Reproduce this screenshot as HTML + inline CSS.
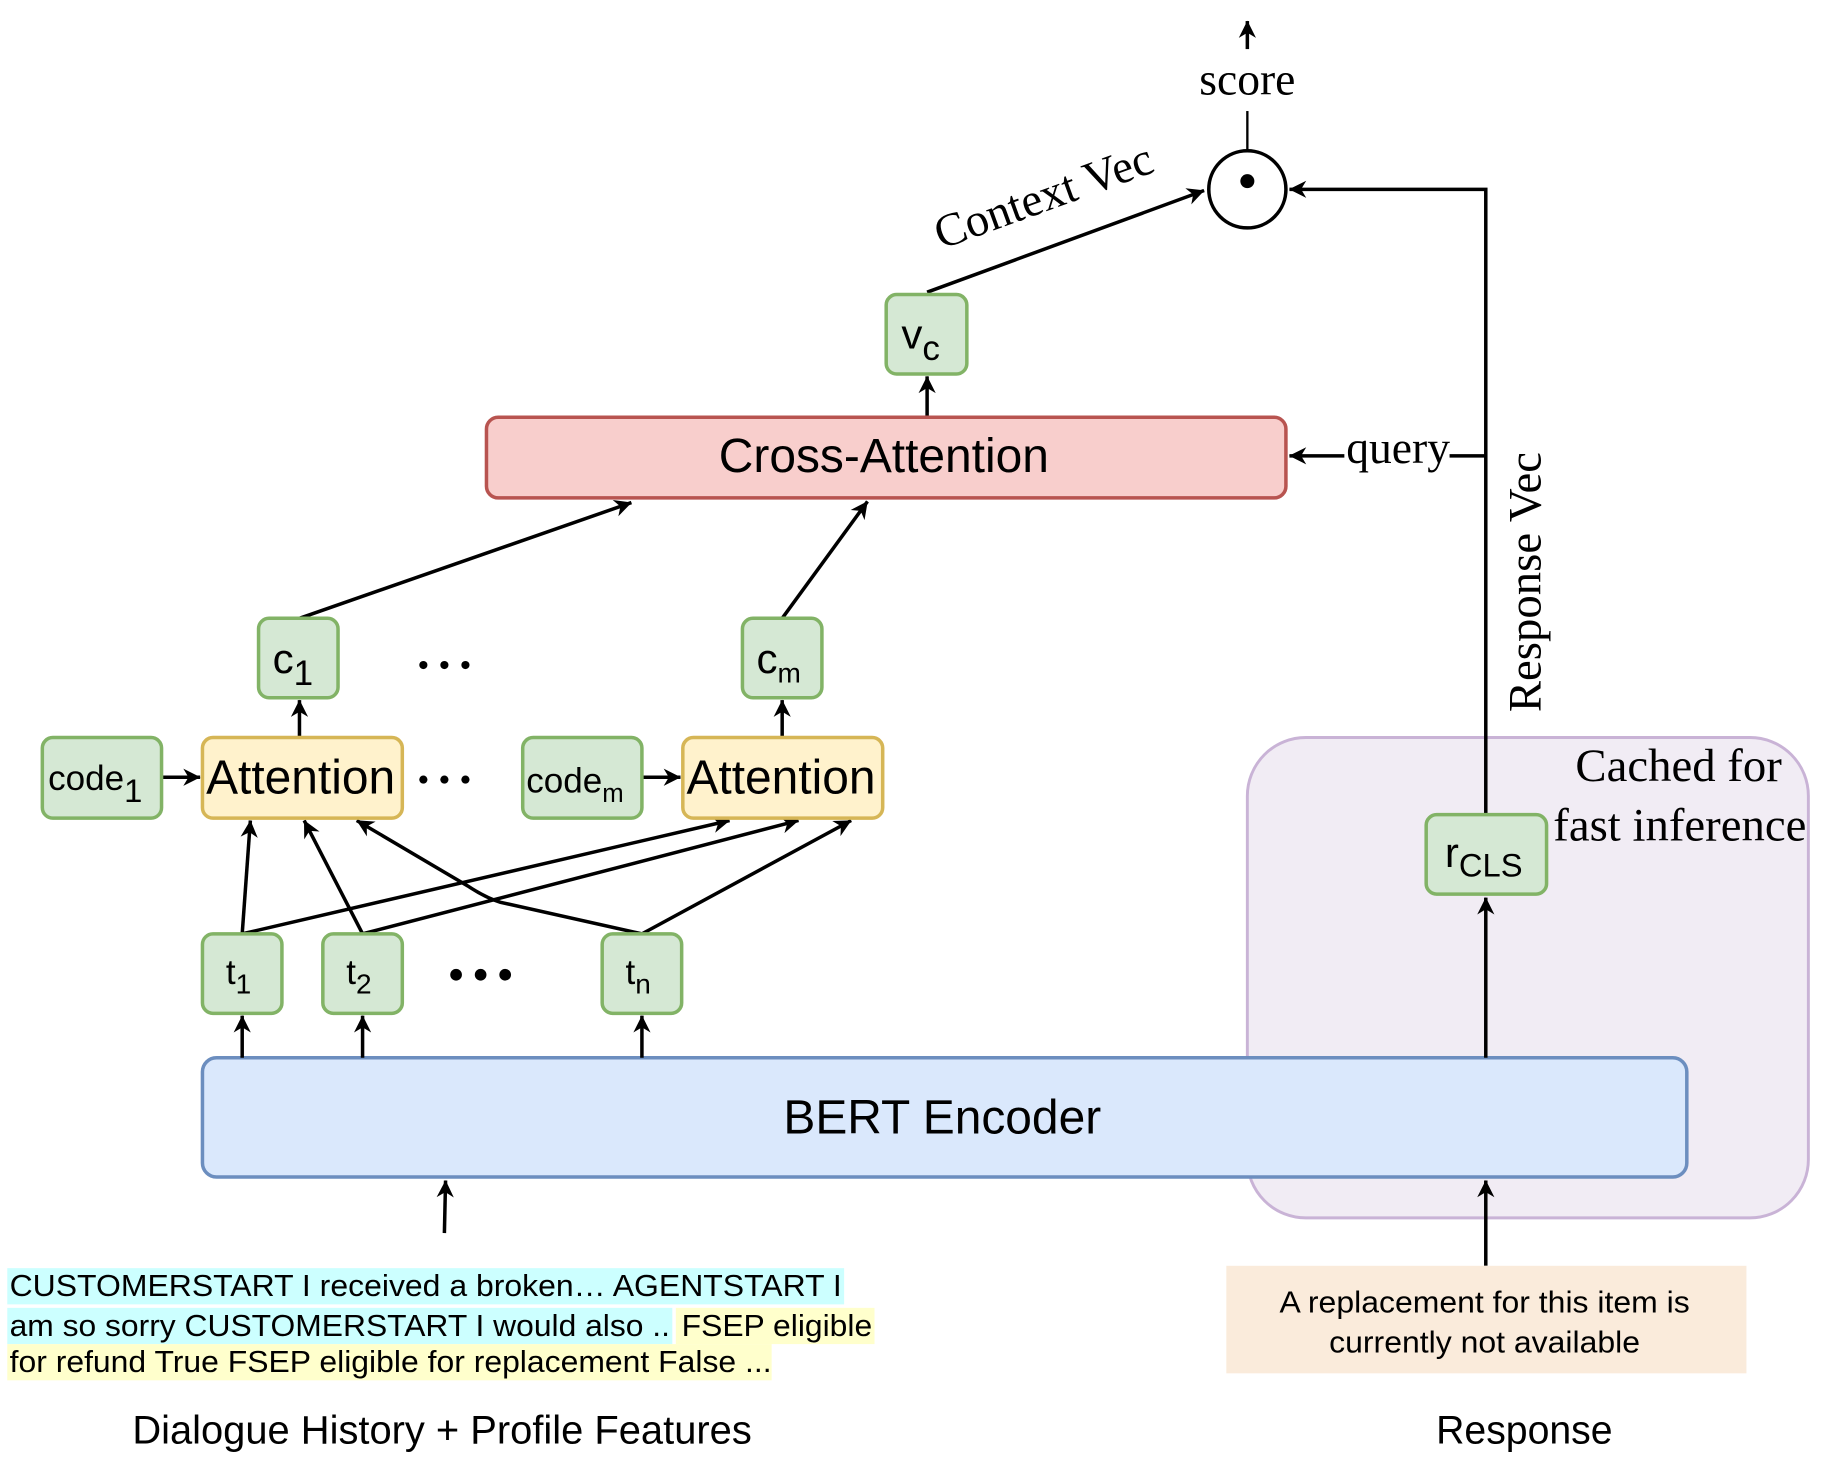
<!DOCTYPE html>
<html><head><meta charset="utf-8"><style>html,body{margin:0;padding:0;background:#fff}svg{display:block}</style></head>
<body>
<svg width="1832" height="1468" viewBox="0 0 1567 1256" xmlns="http://www.w3.org/2000/svg">
<defs>
<marker id="a" viewBox="0 0 10 10" refX="9" refY="5" markerWidth="7" markerHeight="7" markerUnits="userSpaceOnUse" orient="auto" style="overflow:visible">
<path d="M0,0 L10,5 L0,10 L3,5 z" fill="#000" transform="scale(2.1) translate(-5.5,-2.6)"/>
</marker>
</defs>
<g font-family="Liberation Sans, sans-serif">
<rect x="1067" y="631" width="480" height="411" rx="50" fill="#f1ecf4" stroke="#c9b3d6" stroke-width="2.5"/>
<text x="1436" y="668" font-family="Liberation Serif, serif" font-size="40" text-anchor="middle">Cached for</text>
<text x="1437" y="719" font-family="Liberation Serif, serif" font-size="40" text-anchor="middle">fast inference</text>

<rect x="173" y="905" width="1270" height="102" rx="12" fill="#dae8fc" stroke="#6c8ebf" stroke-width="3"/>
<text x="806" y="970" font-size="41" text-anchor="middle">BERT Encoder</text>

<g stroke="#000" stroke-width="3" fill="none" marker-end="url(#a)">
<line x1="207" y1="905" x2="207" y2="869"/>
<line x1="310" y1="905" x2="310" y2="869"/>
<line x1="549" y1="905" x2="549" y2="869"/>
<line x1="1271" y1="905" x2="1271" y2="768"/>
<line x1="380" y1="1055" x2="381" y2="1010"/>
<line x1="1271" y1="1083" x2="1271" y2="1010"/>
<line x1="207" y1="799" x2="214" y2="702"/>
<line x1="207" y1="799" x2="624" y2="702"/>
<line x1="310" y1="799" x2="260" y2="702"/>
<line x1="310" y1="799" x2="683" y2="702"/>
<path d="M549,799 L428,772 Q415,768 400,758 L305,702"/>
<line x1="549" y1="799" x2="728" y2="702"/>
<line x1="138" y1="665" x2="171" y2="665"/>
<line x1="549" y1="665" x2="582" y2="665"/>
<line x1="256" y1="631" x2="256" y2="599"/>
<line x1="669" y1="631" x2="669" y2="599"/>
<line x1="256" y1="529" x2="540" y2="430"/>
<line x1="669" y1="529" x2="742" y2="429"/>
<line x1="793" y1="357" x2="793" y2="322"/>
<line x1="793" y1="250" x2="1030" y2="163"/>
<line x1="1067" y1="42" x2="1067" y2="18"/>
<path d="M1271,697 L1271,162 L1103,162"/>
<line x1="1150" y1="390" x2="1103" y2="390"/>
</g>
<line x1="1240" y1="390" x2="1271" y2="390" stroke="#000" stroke-width="3"/>
<line x1="1067" y1="95" x2="1067" y2="128" stroke="#000" stroke-width="2"/>
<circle cx="1067" cy="162" r="33" fill="#fff" stroke="#000" stroke-width="3"/>
<circle cx="1067" cy="155" r="6" fill="#000"/>
<text x="1067" y="81" font-family="Liberation Serif, serif" font-size="39" text-anchor="middle">score</text>
<text x="1196" y="396" font-family="Liberation Serif, serif" font-size="39" text-anchor="middle">query</text>
<text transform="translate(897,180) rotate(-20)" font-family="Liberation Serif, serif" font-size="40" text-anchor="middle">Context Vec</text>
<text transform="translate(1318,498) rotate(-90)" font-family="Liberation Serif, serif" font-size="40" text-anchor="middle">Response Vec</text>

<rect x="416" y="357" width="684" height="69" rx="10" fill="#f8cecc" stroke="#b85450" stroke-width="3"/>
<text x="756" y="404" font-size="41" text-anchor="middle">Cross-Attention</text>

<g fill="#d5e8d4" stroke="#82b366" stroke-width="3">
<rect x="758" y="252" width="69" height="68" rx="9"/>
<rect x="221" y="529" width="68" height="68" rx="9"/>
<rect x="635" y="529" width="68" height="68" rx="9"/>
<rect x="36" y="631" width="102" height="69" rx="9"/>
<rect x="447" y="631" width="102" height="69" rx="9"/>
<rect x="173" y="799" width="68" height="68" rx="9"/>
<rect x="276" y="799" width="68" height="68" rx="9"/>
<rect x="515" y="799" width="68" height="68" rx="9"/>
<rect x="1220" y="697" width="103" height="68" rx="9"/>
</g>
<g fill="#fff2cc" stroke="#d6b656" stroke-width="3">
<rect x="173" y="631" width="171" height="69" rx="9"/>
<rect x="584" y="631" width="171" height="69" rx="9"/>
</g>
<g font-size="41" text-anchor="middle">
<text x="257" y="679">Attention</text>
<text x="668" y="679">Attention</text>
</g>
<g font-size="36">
<text x="771" y="298">v<tspan font-size="30" dy="10">c</tspan></text>
<text x="233" y="576">c<tspan font-size="30" dy="10">1</tspan></text>
<text x="647" y="576">c<tspan font-size="24" dy="8">m</tspan></text>
<text x="41" y="676" font-size="30">code<tspan font-size="28" dy="10">1</tspan></text>
<text x="450" y="678" font-size="30">code<tspan font-size="22" dy="8">m</tspan></text>
<text x="193" y="842" font-size="30">t<tspan font-size="24" dy="8">1</tspan></text>
<text x="296" y="842" font-size="30">t<tspan font-size="24" dy="8">2</tspan></text>
<text x="535" y="842" font-size="30">t<tspan font-size="24" dy="8">n</tspan></text>
<text x="1236" y="742">r<tspan font-size="28" dy="8">CLS</tspan></text>
</g>
<g fill="#000">
<circle cx="362" cy="569" r="3.5"/><circle cx="380" cy="569" r="3.5"/><circle cx="398" cy="569" r="3.5"/>
<circle cx="362" cy="667" r="3.5"/><circle cx="380" cy="667" r="3.5"/><circle cx="398" cy="667" r="3.5"/>
<circle cx="390" cy="834" r="5"/><circle cx="411" cy="834" r="5"/><circle cx="432" cy="834" r="5"/>
</g>

<rect x="6" y="1085" width="716" height="31" fill="#ccffff"/>
<rect x="6" y="1119" width="569" height="31" fill="#ccffff"/>
<rect x="578" y="1119" width="170" height="31" fill="#ffffcc"/>
<rect x="6" y="1150" width="654" height="31" fill="#ffffcc"/>
<g font-size="26">
<text x="8" y="1109" textLength="712" lengthAdjust="spacingAndGlyphs">CUSTOMERSTART I received a broken… AGENTSTART I</text>
<text x="8" y="1143" textLength="565" lengthAdjust="spacingAndGlyphs">am so sorry CUSTOMERSTART I would also ..</text>
<text x="583" y="1143" textLength="163" lengthAdjust="spacingAndGlyphs">FSEP eligible</text>
<text x="8" y="1174" textLength="652" lengthAdjust="spacingAndGlyphs">for refund True FSEP eligible for replacement False ...</text>
</g>
<rect x="1049" y="1083" width="445" height="92" fill="#faebdb"/>
<text x="1270" y="1123" font-size="26" text-anchor="middle" textLength="351" lengthAdjust="spacingAndGlyphs">A replacement for this item is</text>
<text x="1270" y="1157" font-size="26" text-anchor="middle" textLength="266" lengthAdjust="spacingAndGlyphs">currently not available</text>
<text x="378" y="1235" font-size="34" text-anchor="middle" textLength="530" lengthAdjust="spacingAndGlyphs">Dialogue History + Profile Features</text>
<text x="1304" y="1235" font-size="34" text-anchor="middle" textLength="151" lengthAdjust="spacingAndGlyphs">Response</text>
</g>
</svg>
</body></html>
